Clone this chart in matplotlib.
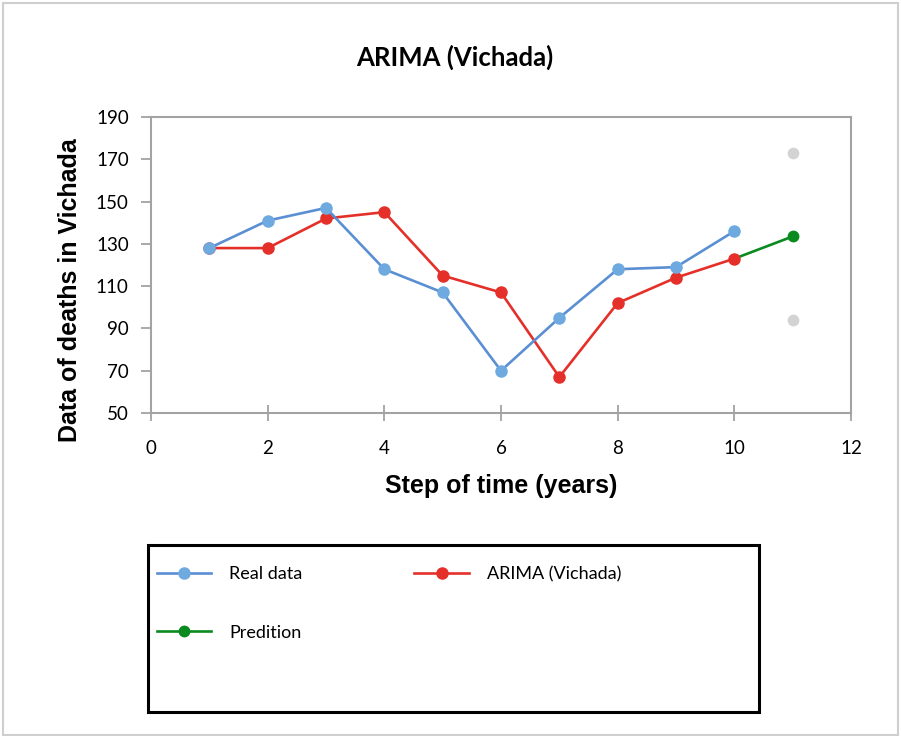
import numpy as np
import matplotlib
matplotlib.use('Agg')
import matplotlib.pyplot as plt
from matplotlib.patches import Rectangle

# Vichada deaths per step of time
steps = [1, 2, 3, 4, 5, 6, 7, 8, 9, 10]
real_data = [128, 141, 147, 118, 107, 70, 95, 118, 119, 136]
arima_fit = [128, 128, 142, 145, 115, 107, 67, 102, 114, 123]

pred_steps = [10, 11]
pred_values = [123, 133.5]

# confidence bounds for the forecast step
bound_steps = [11, 11]
bound_values = [173, 94]

blue_line = '#5b8fd3'
blue_dot = '#6eaadf'
red = '#e5302a'
green = '#0b8a1f'

fig = plt.figure(figsize=(9.01, 7.36), dpi=100)
ax = fig.add_axes([151 / 901, 323 / 736, 700 / 901, 296 / 736])

ax.plot(pred_steps, pred_values, color=green, lw=1.9, marker='o', ms=7.5,
        markevery=[1], label='Predition', zorder=3)
ax.plot(steps, arima_fit, color=red, lw=1.9, marker='o', ms=8,
        label='ARIMA (Vichada)', zorder=4)
ax.plot(steps, real_data, color=blue_line, lw=1.9, marker='o', ms=8,
        mfc=blue_dot, mec=blue_dot, label='Real data', zorder=5)
ax.scatter(bound_steps, bound_values, s=55, color='#d3d3d3', zorder=3)

ax.set_xlim(0, 12)
ax.set_ylim(50, 190)
ax.set_xticks(np.arange(0, 13, 2))
ax.set_yticks(np.arange(50, 191, 20))

for s in ax.spines.values():
    s.set_color('#a3a3a3')
    s.set_linewidth(1.5)
ax.tick_params(axis='x', direction='inout', length=11, width=1.3, color='#a3a3a3',
               pad=14, labelsize=13.5)
ax.tick_params(axis='y', direction='out', length=7, width=1.3, color='#a3a3a3',
               pad=9, labelsize=13.5)
for lab in ax.get_xticklabels() + ax.get_yticklabels():
    lab.set_family('Lato')

ax.set_xlabel('Step of time (years)', family='Liberation Sans', weight='bold',
              fontsize=18, labelpad=12)
ax.set_ylabel('Data of deaths in Vichada', family='Liberation Sans', weight='bold',
              fontsize=18, va='center')
ax.yaxis.set_label_coords(-0.115, 0.415)

fig.text(455 / 901, 1 - 57 / 736, 'ARIMA (Vichada)', family='Lato', weight='bold',
         fontsize=18.5, ha='center', va='center')

# legend box below the plot
fig.add_artist(Rectangle((148 / 901, 24 / 736), 611 / 901, 167 / 736,
                         transform=fig.transFigure, fill=False,
                         edgecolor='black', lw=2.2))
h, l = ax.get_legend_handles_labels()
order = [2, 0, 1]
fig.legend([h[i] for i in order], [l[i] for i in order], ncol=2,
           loc='upper left', bbox_to_anchor=(157 / 901, 1 - 566 / 736),
           frameon=False, borderpad=0, borderaxespad=0,
           handlelength=3.0, handletextpad=1.0, columnspacing=6.2,
           labelspacing=2.35, prop={'family': 'Lato', 'size': 13})

# outer frame
fig.add_artist(Rectangle((0.003, 0.002), 0.994, 0.994, transform=fig.transFigure,
                         fill=False, edgecolor='#cfcfcf', lw=1.5))

fig.savefig('out.png', dpi=100)
